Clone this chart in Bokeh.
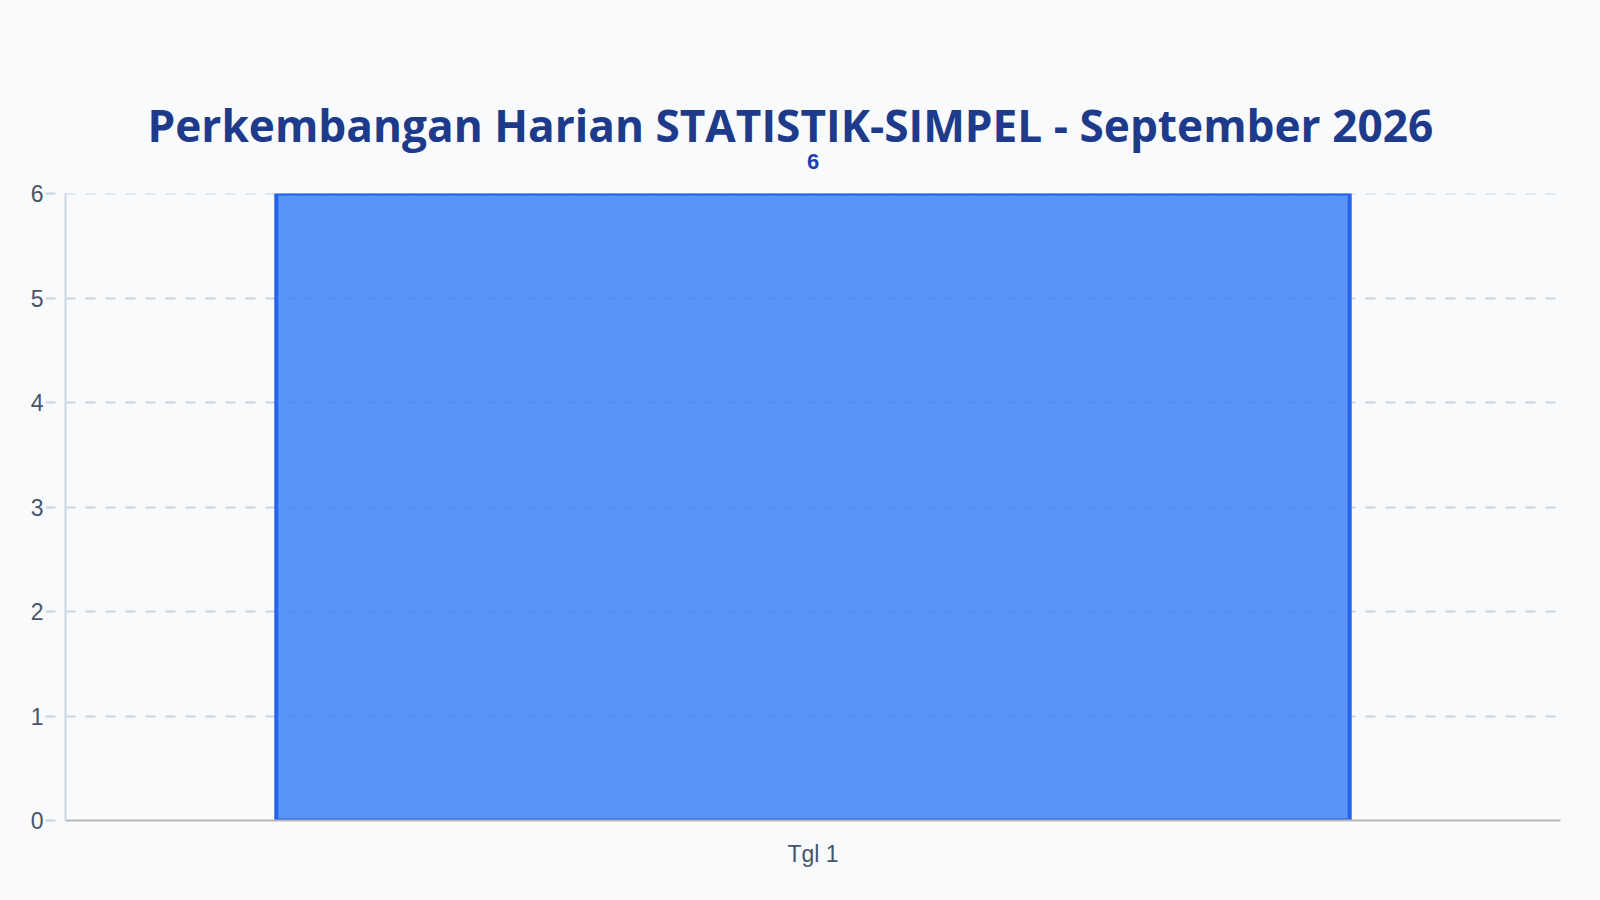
from bokeh.plotting import figure
from bokeh.models import ColumnDataSource, FactorRange, Range1d, FixedTicker, Span, CategoricalAxis
from bokeh.embed import file_html
from bokeh.resources import INLINE

# data
days = ["Tgl 1"]
counts = [6]
y_ticks = [0, 1, 2, 3, 4, 5, 6]
title_text = "Perkembangan Harian STATISTIK-SIMPEL - September 2026"

BG = "#f8fafc"
GRID = "#cbd5e1"
src = ColumnDataSource(dict(day=days, count=counts))

p = figure(width=1584, height=884, output_backend="svg", toolbar_location=None,
           x_range=FactorRange(*days), y_range=Range1d(0, max(y_ticks)),
           background_fill_color=BG, border_fill_color=BG,
           min_border_left=65, min_border_right=24, min_border_top=193, min_border_bottom=64)
p.outline_line_color = None
# a parallel factor range holding the bar values, used for the value labels on top
p.extra_x_ranges = {"vals": FactorRange(*[str(c) for c in counts])}

p.title.text = title_text
p.title.align = "left"
p.title.offset = 82
p.title.text_font = "Open Sans"
p.title.text_font_size = "44.2px"
p.title.text_font_style = "bold"
p.title.text_color = "#1e3a8a"
p.title.standoff = -8

top_axis = CategoricalAxis(
    x_range_name="vals",
    axis_line_color=None, major_tick_line_color=None, minor_tick_line_color=None,
    major_label_standoff=19, major_label_text_font="Liberation Sans",
    major_label_text_font_size="22px", major_label_text_font_style="bold",
    major_label_text_color="#1e40af")
p.add_layout(top_axis, "above")

# grid
p.xgrid.grid_line_color = None
p.ygrid.grid_line_color = GRID
p.ygrid.grid_line_dash = "10 10"
p.ygrid.grid_line_width = 2
p.add_layout(Span(location=max(y_ticks), dimension="width", line_color=GRID,
                  line_dash="10 10", line_width=2, level="underlay"))

p.vbar(x="day", top="count", width=0.718, source=src,
       fill_color="#3b82f6", fill_alpha=0.85, line_color="#2563eb", line_width=4)

# y axis
p.yaxis.ticker = FixedTicker(ticks=y_ticks)
p.yaxis.axis_line_color = GRID
p.yaxis.axis_line_width = 2
p.yaxis.major_tick_line_color = GRID
p.yaxis.major_tick_line_dash = "10 10"
p.yaxis.major_tick_line_width = 2
p.yaxis.major_tick_out = 20
p.yaxis.major_tick_in = 0
p.yaxis.minor_tick_line_color = None
p.yaxis.major_label_standoff = 2
p.yaxis.major_label_text_font = "Liberation Sans"
p.yaxis.major_label_text_font_size = "23px"
p.yaxis.major_label_text_color = "#475569"

# x axis (bottom)
bottom_axis = p.below[0]
bottom_axis.axis_line_color = "#b8b8b8"
bottom_axis.axis_line_width = 2
bottom_axis.major_tick_line_color = None
bottom_axis.minor_tick_line_color = None
bottom_axis.major_label_standoff = 14
bottom_axis.major_label_text_font = "Liberation Sans"
bottom_axis.major_label_text_font_size = "23px"
bottom_axis.major_label_text_color = "#475569"

html = file_html(p, INLINE)
html = html.replace("</head>", "<style>html,body{background:#f8fafc;}</style></head>", 1)
open("out.html", "w").write(html)
